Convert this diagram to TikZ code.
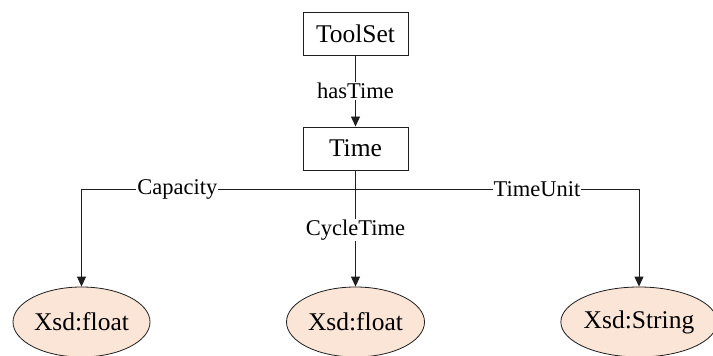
\documentclass[tikz,border=0pt]{standalone}
\usepackage{fontspec}
\setmainfont{Liberation Serif}
\usetikzlibrary{shapes.geometric,arrows.meta}
\definecolor{peach}{RGB}{251,229,214}
\definecolor{ink}{RGB}{30,30,30}
\begin{document}
\begin{tikzpicture}[x=1pt,y=1pt,
  classbox/.style={draw=ink,line width=0.9pt,fill=white,minimum width=105pt,minimum height=43pt,inner sep=0pt,font=\fontsize{25.5}{28}\selectfont},
  literal/.style={ellipse,draw=ink,line width=0.8pt,fill=peach,minimum height=70pt,inner sep=0pt,font=\fontsize{25.5}{28}\selectfont},
  arr/.style={draw=ink,line width=0.9pt,-{Triangle[length=10pt,width=9pt]}},
  lab/.style={fill=white,inner sep=1pt,font=\fontsize{22.5}{25}\selectfont}]
\useasboundingbox (0,0) rectangle (713,356);

% classes
\node[classbox] (toolset) at (355.5,322.5) {ToolSet};
\node[classbox] (time) at (355.5,207.5) {Time};

% datatype literals
\node[literal,minimum width=137pt] (e1) at (81.5,34) {Xsd:float};
\node[literal,minimum width=138pt] (e2) at (355.5,34) {Xsd:float};
\node[literal,minimum width=154pt] (e3) at (639,34) {Xsd:String};

% branching point below Time
\coordinate (j) at (time.south |- 0,167);

% connectors
\draw[arr] (toolset) -- node[lab,midway]{hasTime} (time);
\draw[draw=ink,line width=0.9pt] (time.south) -- (j);
\draw[arr] (j) -- node[lab,pos=0.65]{Capacity} (e1.north |- j) -- (e1.north);
\draw[arr] (j) -- node[lab,pos=0.64]{TimeUnit} (e3.north |- j) -- (e3.north);
\draw[arr] (time.south) -- node[lab,pos=0.513]{CycleTime} (e2.north);
\end{tikzpicture}
\end{document}
